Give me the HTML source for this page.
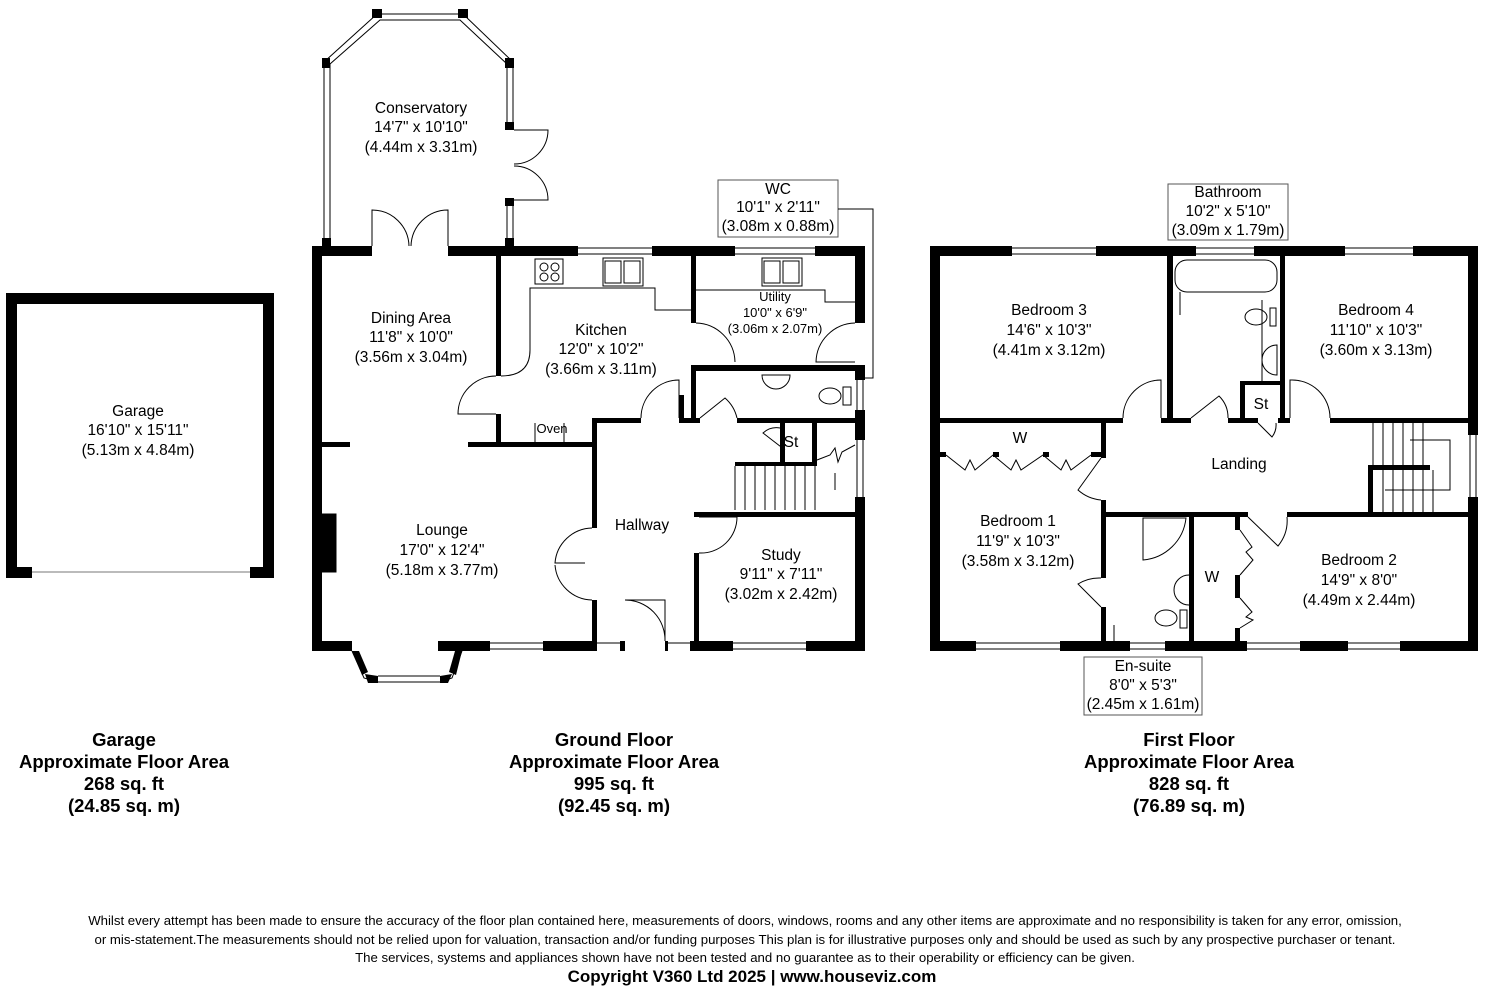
<!DOCTYPE html>
<html><head><meta charset="utf-8"><style>
body{margin:0;background:#fff}
svg{display:block}
text{font-family:"Liberation Sans",sans-serif;fill:#000}
.l{font-size:15.5px;text-anchor:middle}
.b{font-size:18.5px;font-weight:bold;text-anchor:middle}
.d{font-size:13px;text-anchor:middle}
.f{font-size:13.2px;text-anchor:middle}
.t{fill:none;stroke:#000;stroke-width:1}
.w{fill:#fff;stroke:#555;stroke-width:1}
</style></head><body>
<svg width="1488" height="986" viewBox="0 0 1488 986" xmlns="http://www.w3.org/2000/svg">
<!-- Garage -->
<g fill="#000">
<rect x="6" y="293" width="268" height="11"/>
<rect x="6" y="293" width="11" height="285"/>
<rect x="263" y="293" width="11" height="285"/>
<rect x="6" y="567" width="26" height="11"/>
<rect x="250" y="567" width="24" height="11"/>
</g>
<line x1="32" y1="572" x2="250" y2="572" stroke="#777"/>
<text class="l" x="138" y="416">Garage</text>
<text class="l" x="138" y="435">16'10" x 15'11"</text>
<text class="l" x="138" y="455">(5.13m x 4.84m)</text>

<!-- Conservatory -->
<g>
<polyline points="324,245 324,62 377,14 463,14 513,62 513,128" class="t"/>
<polyline points="330,245 330,64 380,20 460,20 507,64 507,128" class="t"/>
<rect x="322" y="58" width="8" height="10" fill="#000"/>
<rect x="372" y="9" width="10" height="9" fill="#000"/>
<rect x="458" y="9" width="10" height="9" fill="#000"/>
<rect x="505" y="58" width="9" height="10" fill="#000"/>
<rect x="505" y="122" width="9" height="8" fill="#000"/>
<rect x="505" y="198" width="9" height="8" fill="#000"/>
<rect x="322" y="238" width="9" height="10" fill="#000"/>
<rect x="505" y="238" width="9" height="10" fill="#000"/>
<line x1="507" y1="206" x2="507" y2="246" class="t"/><line x1="513" y1="206" x2="513" y2="246" class="t"/>
<path d="M514,130 L548,130 A34,34 0 0 1 514,164 M514,200 L548,200 A34,34 0 0 0 514,166" class="t"/>
<path d="M372,246 L372,210 A37,37 0 0 1 409,246 M448,246 L448,210 A37,37 0 0 0 411,246" class="t"/>
</g>
<text class="l" x="421" y="113">Conservatory</text>
<text class="l" x="421" y="132">14'7" x 10'10"</text>
<text class="l" x="421" y="152">(4.44m x 3.31m)</text>

<!-- Ground floor walls -->
<g fill="#000">
<rect x="312" y="246" width="60" height="10"/>
<rect x="448" y="246" width="130" height="10"/>
<rect x="652" y="246" width="83" height="10"/>
<rect x="815" y="246" width="50" height="10"/>
<rect x="312" y="246" width="10" height="405"/>
<rect x="855" y="246" width="10" height="77"/>
<rect x="855" y="365" width="10" height="15"/>
<rect x="855" y="410" width="10" height="30"/>
<rect x="855" y="497" width="10" height="154"/>
<rect x="312" y="641" width="40" height="10"/>
<rect x="438" y="641" width="52" height="10"/>
<rect x="543" y="641" width="54" height="10"/>
<rect x="620" y="641" width="5" height="10"/>
<rect x="665" y="641" width="3" height="10"/>
<rect x="690" y="641" width="43" height="10"/>
<rect x="806" y="641" width="59" height="10"/>
<rect x="496" y="256" width="5" height="120"/>
<rect x="496" y="414" width="5" height="30"/>
<rect x="322" y="442" width="28" height="5"/>
<rect x="468" y="442" width="128" height="5"/>
<rect x="592" y="418" width="49" height="5"/>
<rect x="679" y="395" width="5" height="28"/>
<rect x="679" y="418" width="12" height="5"/>
<rect x="691" y="256" width="5" height="67"/>
<rect x="691" y="365" width="5" height="58"/>
<rect x="691" y="365" width="164" height="6"/>
<rect x="691" y="418" width="9" height="5"/>
<rect x="737" y="418" width="118" height="5"/>
<rect x="592" y="418" width="5" height="110"/>
<rect x="592" y="600" width="5" height="45"/>
<rect x="780" y="423" width="5" height="42"/>
<rect x="812" y="423" width="5" height="42"/>
<rect x="735" y="462" width="82" height="4"/>
<rect x="694" y="512" width="161" height="5"/>
<rect x="694" y="553" width="5" height="92"/>
</g>
<g class="t">
<line x1="578" y1="248" x2="652" y2="248"/><line x1="578" y1="254" x2="652" y2="254"/>
<line x1="735" y1="248" x2="815" y2="248"/><line x1="735" y1="254" x2="815" y2="254"/>
<line x1="490" y1="643" x2="543" y2="643"/><line x1="490" y1="649" x2="543" y2="649"/>
<line x1="597" y1="643" x2="620" y2="643"/><line x1="668" y1="643" x2="690" y2="643"/>
<line x1="733" y1="643" x2="806" y2="643"/><line x1="733" y1="649" x2="806" y2="649"/>
<line x1="857" y1="380" x2="857" y2="410"/><line x1="863" y1="380" x2="863" y2="410"/>
<line x1="857" y1="440" x2="857" y2="497"/><line x1="863" y1="440" x2="863" y2="497"/>
<polyline points="352,651 364,678 378,682 440,682 452,678 462,651"/>
<line x1="378" y1="676" x2="440" y2="676"/>
</g>
<g fill="#000">
<polygon points="352,651 359,651 368,672 362,675"/>
<polygon points="365,674 378,676 378,683 368,683"/>
<polygon points="440,676 452,674 448,683 440,683"/>
<polygon points="455,651 462,651 456,675 449,672"/>
</g>
<g class="t">
<path d="M496,376 A38,38 0 0 0 458,414 L496,414"/>
<path d="M501,376 Q530,376 530,350 L530,288 L655,288 L655,310 L691,310"/>
<rect x="535" y="259" width="28" height="25"/>
<circle cx="544" cy="267" r="4"/><circle cx="555" cy="267" r="4"/><circle cx="544" cy="277" r="4"/><circle cx="555" cy="277" r="4"/>
<rect x="603" y="258" width="40" height="28"/>
<rect x="605" y="261" width="16" height="22"/><rect x="624" y="261" width="16" height="22"/>
<rect x="762" y="258" width="40" height="28"/>
<rect x="764" y="261" width="16" height="22"/><rect x="783" y="261" width="16" height="22"/>
<path d="M696,290 L825,290 L825,302 L855,302"/>
<path d="M696,323 A40,40 0 0 1 735,362"/>
<path d="M855,323 A40,40 0 0 0 816,362 L855,362"/>
<path d="M641,418 A38,38 0 0 1 679,380 L679,418"/>
<path d="M700,418 L725,398 A38,38 0 0 1 737,418"/>
<path d="M762,375 A14,14 0 0 0 790,375 Z"/>
<ellipse cx="830" cy="396" rx="11" ry="8"/>
<rect x="843" y="387" width="8" height="18"/>
<path d="M785,450 L763,433 A20,20 0 0 1 780,428"/>
<line x1="735" y1="466" x2="735" y2="510"/>
<line x1="745" y1="466" x2="745" y2="510"/><line x1="755" y1="466" x2="755" y2="510"/><line x1="765" y1="466" x2="765" y2="510"/><line x1="775" y1="466" x2="775" y2="510"/><line x1="785" y1="466" x2="785" y2="510"/><line x1="795" y1="466" x2="795" y2="510"/><line x1="805" y1="466" x2="805" y2="510"/><line x1="815" y1="466" x2="815" y2="510"/>
<polyline points="817,460 830,455 835,448 838,462 842,452 855,445"/>
<line x1="835" y1="490" x2="835" y2="473"/>
<path d="M592,528 A38,38 0 0 0 555,563 L585,563 M592,600 A38,38 0 0 1 555,565"/>
<path d="M625,600 A40,40 0 0 1 665,641 L665,600 Z" fill="none"/>
<path d="M699,517 L737,517 A36,36 0 0 1 699,553"/>
<line x1="535" y1="423" x2="535" y2="442"/><line x1="564" y1="423" x2="564" y2="442"/>
<rect x="322" y="514" width="14" height="58" fill="#000"/>
<line x1="336" y1="514" x2="336" y2="572"/>
</g>
<text class="d" x="552" y="433">Oven</text>
<text class="l" x="791" y="447">St</text>
<text class="l" x="411" y="323">Dining Area</text>
<text class="l" x="411" y="342">11'8" x 10'0"</text>
<text class="l" x="411" y="362">(3.56m x 3.04m)</text>
<text class="l" x="601" y="335">Kitchen</text>
<text class="l" x="601" y="354">12'0" x 10'2"</text>
<text class="l" x="601" y="374">(3.66m x 3.11m)</text>
<text class="d" x="775" y="301">Utility</text>
<text class="d" x="775" y="317">10'0" x 6'9"</text>
<text class="d" x="775" y="333">(3.06m x 2.07m)</text>
<text class="l" x="642" y="530">Hallway</text>
<text class="l" x="442" y="535">Lounge</text>
<text class="l" x="442" y="555">17'0" x 12'4"</text>
<text class="l" x="442" y="575">(5.18m x 3.77m)</text>
<text class="l" x="781" y="560">Study</text>
<text class="l" x="781" y="579">9'11" x 7'11"</text>
<text class="l" x="781" y="599">(3.02m x 2.42m)</text>
<rect x="718" y="180" width="120" height="57" class="w"/>
<text class="l" x="778" y="194">WC</text>
<text class="l" x="778" y="212">10'1" x 2'11"</text>
<text class="l" x="778" y="231">(3.08m x 0.88m)</text>
<polyline points="838,209 873,209 873,378 855,378" class="t" stroke="#666"/>

<!-- First floor walls -->
<g fill="#000">
<rect x="930" y="246" width="82" height="10"/>
<rect x="1096" y="246" width="100" height="10"/>
<rect x="1254" y="246" width="91" height="10"/>
<rect x="1413" y="246" width="65" height="10"/>
<rect x="930" y="246" width="10" height="405"/>
<rect x="1468" y="246" width="10" height="189"/>
<rect x="1468" y="497" width="10" height="154"/>
<rect x="930" y="641" width="46" height="10"/>
<rect x="1060" y="641" width="70" height="10"/>
<rect x="1165" y="641" width="82" height="10"/>
<rect x="1300" y="641" width="48" height="10"/>
<rect x="1400" y="641" width="78" height="10"/>
<rect x="1167" y="256" width="6" height="167"/>
<rect x="1280" y="256" width="5" height="167"/>
<rect x="1240" y="381" width="5" height="42"/>
<rect x="1240" y="381" width="45" height="4"/>
<rect x="940" y="418" width="183" height="5"/>
<rect x="1161" y="418" width="30" height="5"/>
<rect x="1228" y="418" width="30" height="5"/>
<rect x="1278" y="418" width="12" height="5"/>
<rect x="1330" y="418" width="138" height="5"/>
<rect x="1101" y="418" width="5" height="40"/>
<rect x="1101" y="500" width="5" height="78"/>
<rect x="1101" y="607" width="5" height="36"/>
<rect x="1101" y="512" width="147" height="5"/>
<rect x="1287" y="512" width="181" height="5"/>
<rect x="1189" y="512" width="5" height="131"/>
<rect x="1235" y="512" width="5" height="18"/>
<rect x="1235" y="575" width="5" height="23"/>
<rect x="1235" y="628" width="5" height="14"/>
<rect x="1368" y="465" width="5" height="50"/>
<rect x="1368" y="465" width="62" height="5"/>
<rect x="940" y="452" width="6" height="5"/><rect x="993" y="452" width="6" height="5"/><rect x="1043" y="452" width="6" height="5"/><rect x="1091" y="452" width="10" height="5"/>
</g>
<g class="t">
<line x1="1012" y1="248" x2="1096" y2="248"/><line x1="1012" y1="254" x2="1096" y2="254"/>
<line x1="1196" y1="248" x2="1254" y2="248"/><line x1="1196" y1="254" x2="1254" y2="254"/>
<line x1="1345" y1="248" x2="1413" y2="248"/><line x1="1345" y1="254" x2="1413" y2="254"/>
<line x1="1470" y1="435" x2="1470" y2="497"/><line x1="1476" y1="435" x2="1476" y2="497"/>
<line x1="976" y1="643" x2="1060" y2="643"/><line x1="976" y1="649" x2="1060" y2="649"/>
<line x1="1130" y1="643" x2="1165" y2="643"/><line x1="1130" y1="649" x2="1165" y2="649"/>
<line x1="1247" y1="643" x2="1300" y2="643"/><line x1="1247" y1="649" x2="1300" y2="649"/>
<line x1="1348" y1="643" x2="1400" y2="643"/><line x1="1348" y1="649" x2="1400" y2="649"/>
<path d="M1161,418 L1161,380 A38,38 0 0 0 1123,418"/>
<path d="M1191,418 L1219,396 A30,30 0 0 1 1228,418"/>
<path d="M1290,418 L1290,380 A38,38 0 0 1 1330,418"/>
<path d="M1258,423 L1272,437 A20,20 0 0 0 1276,423"/>
<path d="M1101,458 L1078,490 A40,40 0 0 0 1101,500"/>
<path d="M1101,578 A40,40 0 0 0 1078,584 L1101,607"/>
<path d="M1248,517 L1278,546 A40,40 0 0 0 1287,517"/>
<polyline points="946,455 965,470 970,460 975,470 993,455 1011,470 1016,460 1021,470 1043,455 1061,470 1066,460 1071,470 1091,455"/>
<polyline points="1240,530 1252,547 1246,552 1253,560 1240,575"/>
<polyline points="1240,598 1252,612 1246,617 1253,620 1240,628"/>
<rect x="1175" y="260" width="102" height="32" rx="12"/>
<ellipse cx="1256" cy="317" rx="11" ry="8"/><rect x="1270" y="308" width="6" height="18"/>
<path d="M1277,345 A15,15 0 0 0 1277,375 Z"/>
<line x1="1262" y1="300" x2="1262" y2="381"/>
<line x1="1180" y1="292" x2="1180" y2="315"/>
<path d="M1186,518 A47,47 0 0 1 1143,560 L1143,518 Z"/>
<path d="M1189,575 A15,15 0 0 0 1189,605"/>
<ellipse cx="1166" cy="618" rx="11" ry="8"/><rect x="1180" y="610" width="7" height="18"/>
<line x1="1114" y1="643" x2="1114" y2="625"/>
<line x1="1373" y1="423" x2="1373" y2="465"/>
<line x1="1383" y1="423" x2="1383" y2="465"/><line x1="1393" y1="423" x2="1393" y2="465"/><line x1="1403" y1="423" x2="1403" y2="465"/><line x1="1413" y1="423" x2="1413" y2="465"/><line x1="1423" y1="423" x2="1423" y2="465"/>
<line x1="1383" y1="470" x2="1383" y2="512"/><line x1="1393" y1="470" x2="1393" y2="512"/><line x1="1403" y1="470" x2="1403" y2="512"/><line x1="1413" y1="470" x2="1413" y2="512"/><line x1="1423" y1="470" x2="1423" y2="512"/><line x1="1433" y1="470" x2="1433" y2="512"/>
<polyline points="1410,440 1450,440 1450,490 1385,490"/>
</g>
<text class="l" x="1049" y="315">Bedroom 3</text>
<text class="l" x="1049" y="335">14'6" x 10'3"</text>
<text class="l" x="1049" y="355">(4.41m x 3.12m)</text>
<text class="l" x="1376" y="315">Bedroom 4</text>
<text class="l" x="1376" y="335">11'10" x 10'3"</text>
<text class="l" x="1376" y="355">(3.60m x 3.13m)</text>
<text class="l" x="1261" y="409">St</text>
<text class="l" x="1020" y="443">W</text>
<text class="l" x="1239" y="469">Landing</text>
<text class="l" x="1018" y="526">Bedroom 1</text>
<text class="l" x="1018" y="546">11'9" x 10'3"</text>
<text class="l" x="1018" y="566">(3.58m x 3.12m)</text>
<text class="l" x="1212" y="582">W</text>
<text class="l" x="1359" y="565">Bedroom 2</text>
<text class="l" x="1359" y="585">14'9" x 8'0"</text>
<text class="l" x="1359" y="605">(4.49m x 2.44m)</text>
<rect x="1168" y="184" width="120" height="56" class="w"/>
<text class="l" x="1228" y="197">Bathroom</text>
<text class="l" x="1228" y="216">10'2" x 5'10"</text>
<text class="l" x="1228" y="235">(3.09m x 1.79m)</text>
<rect x="1084" y="657" width="118" height="58" class="w"/>
<text class="l" x="1143" y="671">En-suite</text>
<text class="l" x="1143" y="690">8'0" x 5'3"</text>
<text class="l" x="1143" y="709">(2.45m x 1.61m)</text>

<text class="b" x="124" y="746">Garage</text>
<text class="b" x="124" y="768">Approximate Floor Area</text>
<text class="b" x="124" y="790">268 sq. ft</text>
<text class="b" x="124" y="812">(24.85 sq. m)</text>
<text class="b" x="614" y="746">Ground Floor</text>
<text class="b" x="614" y="768">Approximate Floor Area</text>
<text class="b" x="614" y="790">995 sq. ft</text>
<text class="b" x="614" y="812">(92.45 sq. m)</text>
<text class="b" x="1189" y="746">First Floor</text>
<text class="b" x="1189" y="768">Approximate Floor Area</text>
<text class="b" x="1189" y="790">828 sq. ft</text>
<text class="b" x="1189" y="812">(76.89 sq. m)</text>

<text class="f" x="745" y="925">Whilst every attempt has been made to ensure the accuracy of the floor plan contained here, measurements of doors, windows, rooms and any other items are approximate and no responsibility is taken for any error, omission,</text>
<text class="f" x="745" y="944">or mis-statement.The measurements should not be relied upon for valuation, transaction and/or funding purposes This plan is for illustrative purposes only and should be used as such by any prospective purchaser or tenant.</text>
<text class="f" x="745" y="962">The services, systems and appliances shown have not been tested and no guarantee as to their operability or efficiency can be given.</text>
<text x="752" y="982" style="font-size:17px;font-weight:bold;text-anchor:middle">Copyright V360 Ltd 2025 | www.houseviz.com</text>
</svg>
</body></html>
